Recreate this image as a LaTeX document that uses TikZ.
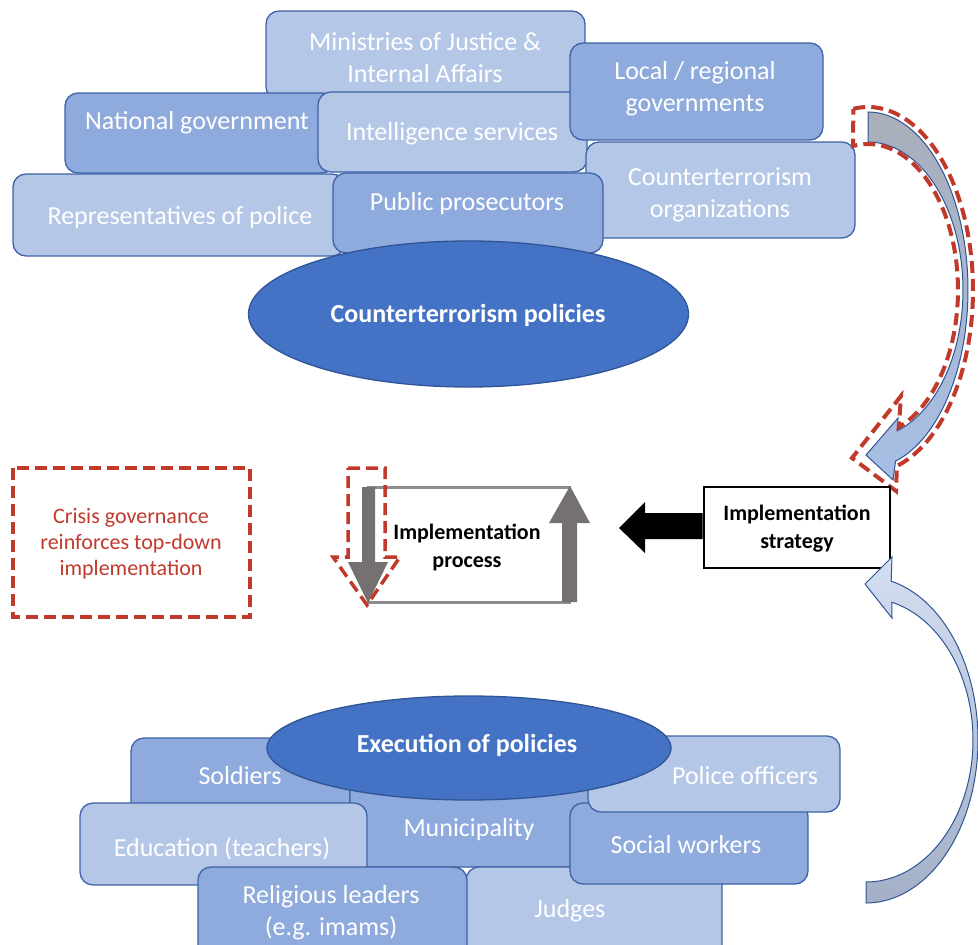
\documentclass[tikz,border=0pt]{standalone}
\usepackage{fontspec}
\setmainfont{Carlito}
\definecolor{boxlight}{HTML}{B4C7E7}
\definecolor{boxmed}{HTML}{8FAADC}
\definecolor{boxedge}{HTML}{3F63A8}
\definecolor{ellfill}{HTML}{4472C4}
\definecolor{elledge}{HTML}{2F5597}
\definecolor{crisisred}{HTML}{C0392B}
\definecolor{procgray}{HTML}{767171}
\definecolor{rectgray}{HTML}{8C8C8C}
\definecolor{arrgray}{HTML}{A9AEB9}
\definecolor{arrblue}{HTML}{A7BFE6}
\definecolor{arrlight}{HTML}{D3DEF1}
\definecolor{arrdark}{HTML}{A3AFC6}
\newcommand\boxfnt{\fontsize{26}{32}\selectfont}
\newcommand\midfnt{\fontsize{22}{28}\selectfont}
\newcommand\redfnt{\fontsize{22}{26}\selectfont}
\tikzset{
  lbox/.style={fill=boxlight, draw=boxedge, line width=1.3pt, rounded corners=13pt},
  mbox/.style={fill=boxmed, draw=boxedge, line width=1.3pt, rounded corners=13pt},
  btxt/.style={text=white, font=\boxfnt, align=center, inner sep=0pt, yshift=-2.5pt},
  elltxt/.style={text=white, font=\boxfnt\bfseries, align=center, inner sep=0pt, yshift=-2pt},
  ell/.style={fill=ellfill, draw=elledge, line width=1.3pt},
  midtxt/.style={text=black, font=\midfnt\bfseries, align=center, inner sep=0pt, yshift=-1.5pt},
  redtxt/.style={text=crisisred, font=\redfnt, align=center, inner sep=0pt, yshift=-1pt},
  reddash/.style={draw=crisisred, line width=4pt, dash pattern=on 12pt off 6pt},
  curvedge/.style={draw=elledge, line width=1pt},
  procarrow/.style={fill=procgray},
}
\begin{document}
\begin{tikzpicture}[x=1pt,y=-1pt]
\useasboundingbox (0,0) rectangle (978,945);
\clip (0,0) rectangle (978,945);

% ---------- top cluster ----------
\path[lbox] (266,11) rectangle (585,100);
\node[btxt] (ministries) at (425,55) {Ministries of Justice \&\\Internal Affairs};
\path[mbox] (65,93) rectangle (335,173);
\node[btxt] (natgov) at (197,120) {National government};
\path[lbox] (318,92) rectangle (587,172);
\node[btxt] (intel) at (452,131) {Intelligence services};
\path[mbox] (570,43) rectangle (823,140);
\node[btxt] (localgov) at (695,86) {Local / regional\\governments};
\path[lbox] (586,142) rectangle (855,238);
\node[btxt] (ctorg) at (720,192) {Counterterrorism\\organizations};
\path[lbox] (13,174) rectangle (345,256);
\node[btxt] (reps) at (180,215) {Representatives of police};
\path[mbox] (333,173) rectangle (603,253);
\node[btxt] (pros) at (467,201) {Public prosecutors};
\path[ell] (468.5,314) ellipse[x radius=220, y radius=73];
\node[elltxt] (ctpol) at (468,313) {Counterterrorism policies};

% ---------- top-right curved arrow ----------
\path[top color=arrgray, bottom color=arrblue, curvedge]
  plot[domain=-90:74, samples=80] ({868+100*cos(\x)},{290+178*sin(\x)})
  -- (893,480) -- (866,455) -- (898,418)
  -- plot[domain=72:-90, samples=80] ({868+95*cos(\x)},{290+148*sin(\x)})
  -- cycle;
\draw[reddash]
  plot[domain=-98:74, samples=80] ({868+105*cos(\x)},{290+183*sin(\x)})
  -- (896,491) -- (852,458) -- (901,396)
  -- plot[domain=70:-99.6, samples=80] ({868+90*cos(\x)},{290+146*sin(\x)})
  -- cycle;

% ---------- middle ----------
\draw[reddash] (13,468) rectangle (250,617);
\node[redtxt] (crisis) at (131,543) {Crisis governance\\reinforces top-down\\implementation};

\draw[rectgray, line width=3pt] (368,487) rectangle (569,602);
\path[procarrow] (362,487) -- (375,487) -- (375,562) -- (388,562) -- (368,603)
  -- (348,562) -- (362,562) -- cycle;
\draw[reddash, line width=3.5pt] (348,468) -- (385,468) -- (385,557) -- (400,557)
  -- (367,605) -- (333,557) -- (348,557) -- cycle;
\path[procarrow] (562,602) -- (577,602) -- (577,523) -- (590,523) -- (570,486)
  -- (549,523) -- (562,523) -- cycle;
\node[midtxt] (process) at (467,546) {Implementation\\process};

\node[draw=black, line width=2pt, minimum width=186pt, minimum height=81pt,
      inner sep=0pt] (stratbox) at (796.5,527.5) {};
\node[midtxt] (strategy) at (797,527) {Implementation\\strategy};
\fill[black] (stratbox.west |- 0,513) -- (645,513) -- (645,502) -- (619,528)
  -- (645,553) -- (645,539) -- (stratbox.west |- 0,539) -- cycle;

% ---------- bottom-right curved arrow ----------
\path[top color=arrlight, bottom color=arrdark, curvedge]
  plot[domain=90:-77, samples=80] ({866+112*cos(\x)},{740+163*sin(\x)})
  -- (892,557) -- (865,584) -- (892,618)
  -- plot[domain=-76:90, samples=80] ({866+107*cos(\x)},{740+142*sin(\x)})
  -- cycle;

% ---------- bottom cluster ----------
\path[mbox] (131,738) rectangle (350,820);
\node[btxt] (soldiers) at (240,773) {Soldiers};
\path[mbox] (350,740) rectangle (600,867);
\node[btxt] (munic) at (469,827) {Municipality};
\path[lbox] (466,867) rectangle (722,965);
\node[btxt] (judges) at (570,908) {Judges};
\path[mbox] (570,803) rectangle (808,884);
\node[btxt] (social) at (686,842) {Social workers};
\path[lbox] (588,736) rectangle (840,812);
\node[btxt] (police) at (745,773) {Police officers};
\path[lbox] (80,803) rectangle (367,885);
\node[btxt] (educ) at (222,846) {Education (teachers)};
\path[mbox] (198,867) rectangle (467,965);
\node[btxt] (relig) at (331,910) {Religious leaders\\(e.g. imams)};
\path[ell] (469,748) ellipse[x radius=202, y radius=52];
\node[elltxt] (exec) at (467,743) {Execution of policies};
\end{tikzpicture}
\end{document}
